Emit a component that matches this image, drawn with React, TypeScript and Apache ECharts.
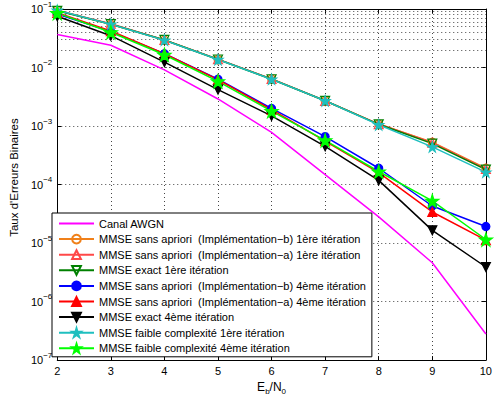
import React, { useEffect, useRef } from "react";
import * as echarts from "echarts";

const ebn0 = [2, 3, 4, 5, 6, 7, 8, 9, 10];
const awgn = [0.0366, 0.024, 0.0091, 0.0029, 7.8e-4, 1.48e-4, 2.8e-5, 4.6e-6, 2.8e-7];
const sansB1 = [0.095, 0.055, 0.0295, 0.0138, 0.0064, 0.0027, 0.00108, 5.3e-4, 1.9e-4];
const sansA1 = [0.094, 0.056, 0.0295, 0.0139, 0.0064, 0.0027, 0.00108, 5.2e-4, 1.85e-4];
const exact1 = [0.093, 0.055, 0.0296, 0.0137, 0.0063, 0.0027, 0.00107, 5.0e-4, 1.8e-4];
const sansB4 = [0.082, 0.041, 0.0172, 0.0063, 0.002, 6.6e-4, 1.9e-4, 4.3e-5, 1.92e-5];
const sansA4 = [0.086, 0.042, 0.0172, 0.0062, 0.0019, 5.5e-4, 1.6e-4, 3.4e-5, 1.12e-5];
const exact4 = [0.075, 0.035, 0.0124, 0.0042, 0.00149, 4.5e-4, 1.18e-4, 1.65e-5, 3.9e-6];
const faible1 = [0.095, 0.055, 0.0293, 0.0137, 0.0063, 0.0027, 0.00105, 4.4e-4, 1.63e-4];
const faible4 = [0.085, 0.04, 0.0165, 0.0058, 0.0018, 5.7e-4, 1.67e-4, 5.25e-5, 1.15e-5];

const legendNames = [
  "Canal AWGN",
  "MMSE sans apriori  (Implémentation\u2212b) 1ère itération",
  "MMSE sans apriori  (Implémentation\u2212a) 1ère itération",
  "MMSE exact 1ère itération",
  "MMSE sans apriori  (Implémentation\u2212b) 4ème itération",
  "MMSE sans apriori  (Implémentation\u2212a) 4ème itération",
  "MMSE exact 4ème itération",
  "MMSE faible complexité 1ère itération",
  "MMSE faible complexité 4ème itération",
];

const yMin = 1e-7;
const yMax = 1e-1;

const STAR = "path://M50,0 L61,35 L98,35 L68,57 L79,91 L50,70 L21,91 L32,57 L2,35 L39,35 Z";
const FONT = "Liberation Sans";

export default function App() {
  const ref = useRef<HTMLDivElement>(null);
  useEffect(() => {
    document.body.style.margin = "0";
    const chart = echarts.init(ref.current!, null, { renderer: "svg" });

    const minorGrid: any[] = [];
    for (let e = -7; e < -1; e++) {
      for (let m = 2; m <= 9; m++) {
        minorGrid.push({ yAxis: m * Math.pow(10, e) });
      }
    }

    const mk = (arr: number[]) => ebn0.map((x, i) => [x, arr[i]]);
    const gridLine = { color: "#444", width: 1, type: [1, 3] as any };

    const base = (name: string, arr: number[], color: string, symbol: string, size: number, filled: boolean, rotate = 0) => ({
      name,
      type: "line",
      data: mk(arr),
      symbol,
      symbolSize: size,
      symbolRotate: rotate,
      lineStyle: { color, width: 1.5 },
      itemStyle: { color: filled ? color : "rgba(255,255,255,0)", borderColor: color, borderWidth: 1.2 },
      emphasis: { disabled: true },
    });

    const series: any[] = [
      {
        name: legendNames[0],
        type: "line",
        data: mk(awgn),
        symbol: "none",
        lineStyle: { color: "#ff00ff", width: 1.5 },
        itemStyle: { color: "#ff00ff" },
        markLine: {
          silent: true,
          symbol: "none",
          z: 1,
          label: { show: false },
          lineStyle: gridLine,
          data: minorGrid,
          emphasis: { disabled: true },
        },
      },
      base(legendNames[1], sansB1, "#f0801a", "circle", 8, false),
      base(legendNames[2], sansA1, "#ff4848", "triangle", 9, false),
      base(legendNames[3], exact1, "#008000", "triangle", 9, false, 180),
      base(legendNames[4], sansB4, "#0000ff", "circle", 8, true),
      base(legendNames[5], sansA4, "#ff0000", "triangle", 9, true),
      base(legendNames[6], exact4, "#000000", "triangle", 9, true, 180),
      base(legendNames[7], faible1, "#1fbfbf", STAR, 10, true),
      base(legendNames[8], faible4, "#00ff00", STAR, 13, true),
    ];

    const yLabel = (v: number) => {
      const e = Math.round(Math.log10(v));
      return `{b|10}{s|${e < 0 ? "\u2212" : ""}${Math.abs(e)}}`;
    };

    const legendData: any[] = legendNames.map((n, i) =>
      i === 0
        ? { name: n, itemStyle: { color: "rgba(0,0,0,0)", borderColor: "rgba(0,0,0,0)", borderWidth: 0, opacity: 0 } }
        : { name: n }
    );

    chart.setOption({
      animation: false,
      textStyle: { fontFamily: FONT },
      grid: { left: 50, right: 5, top: 6, bottom: 36, show: false },
      legend: {
        data: legendData,
        orient: "vertical",
        left: 52,
        top: 213,
        itemWidth: 35,
        itemHeight: 11,
        itemGap: 4.6,
        padding: [5, 6, 3, 6],
        backgroundColor: "#fff",
        borderColor: "#000",
        borderWidth: 1,
        textStyle: { fontFamily: FONT, fontSize: 11, color: "#000", lineHeight: 11 },
        selectedMode: false,
      },
      xAxis: [
        {
          type: "value",
          min: 2,
          max: 10,
          interval: 1,
          name: "{m|E}{sub|b}{m|/N}{sub|0}",
          nameLocation: "middle",
          nameGap: 18,
          nameTextStyle: {
            rich: {
              m: { fontSize: 12, fontFamily: FONT, color: "#000" },
              sub: { fontSize: 8, fontFamily: FONT, color: "#000", padding: [8, 0, 0, 0] },
            },
          },
          axisLine: { lineStyle: { color: "#000", width: 1 } },
          axisTick: { inside: true, length: 4, lineStyle: { color: "#000" } },
          axisLabel: { color: "#000", fontSize: 11, fontFamily: FONT, margin: 5 },
          splitLine: { show: true, lineStyle: gridLine },
        },
        {
          type: "value",
          position: "top",
          min: 2,
          max: 10,
          interval: 1,
          axisLine: { show: true, lineStyle: { color: "#000", width: 1 } },
          axisTick: { inside: true, length: 4, lineStyle: { color: "#000" } },
          axisLabel: { show: false },
          splitLine: { show: false },
        },
      ],
      yAxis: [
        {
          type: "log",
          logBase: 10,
          min: yMin,
          max: yMax,
          interval: 1,
          name: "Taux d'Erreurs Binaires",
          nameLocation: "middle",
          nameGap: 31,
          nameTextStyle: { fontSize: 11.5, fontFamily: FONT, color: "#000", padding: [0, 0, 0, 14] },
          axisLine: { show: true, lineStyle: { color: "#000", width: 1 } },
          axisTick: { inside: true, length: 4, lineStyle: { color: "#000" } },
          axisLabel: {
            color: "#000",
            margin: 5,
            formatter: yLabel,
            rich: {
              b: { fontSize: 11, fontFamily: FONT, color: "#000" },
              s: { fontSize: 8, fontFamily: FONT, color: "#000", padding: [0, 0, 10, 0] },
            },
          },
          splitLine: { show: true, lineStyle: gridLine },
        },
        {
          type: "log",
          logBase: 10,
          min: yMin,
          max: yMax,
          interval: 1,
          position: "right",
          axisLine: { show: true, lineStyle: { color: "#000", width: 1 } },
          axisTick: { inside: true, length: 4, lineStyle: { color: "#000" } },
          axisLabel: { show: false },
          splitLine: { show: false },
        },
      ],
      series,
    });
    return () => chart.dispose();
  }, []);
  return <div ref={ref} style={{ width: 495, height: 400 }} />;
}
